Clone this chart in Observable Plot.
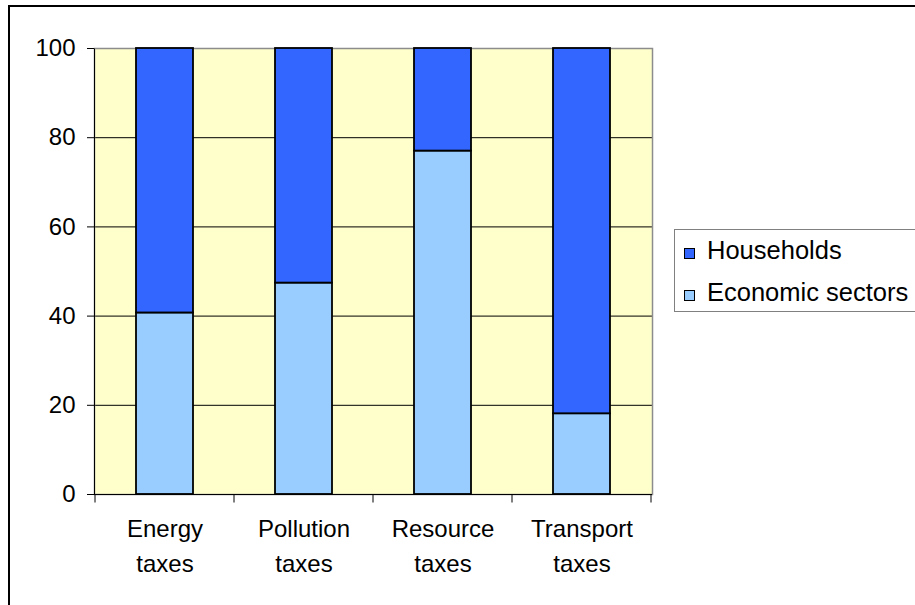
<!DOCTYPE html>
<html>
<head>
<meta charset="utf-8">
<script src="https://cdn.jsdelivr.net/npm/d3@7"></script>
<script src="https://cdn.jsdelivr.net/npm/@observablehq/plot@0.6"></script>
<style>
  body { margin: 0; background: #fff; font-family: "Liberation Sans", Arial, sans-serif; }
  #wrap { position: relative; width: 915px; height: 605px; overflow: hidden; background: #fff; }
  #frame { position: absolute; left: 8px; top: 5px; width: 1000px; height: 1000px; border: 2px solid #000; box-sizing: border-box; }
  #chart { position: absolute; left: 0; top: 0; }
  #legend { position: absolute; left: 674px; top: 229px; width: 300px; height: 83px; border: 1px solid #808080; box-sizing: border-box; background: #fff; font-size: 25.5px; color: #000; }
  .item { position: absolute; left: 0; height: 28px; line-height: 28px; white-space: nowrap; }
  .sw { position: absolute; left: 9px; width: 11px; height: 11px; border: 1px solid #000; box-sizing: border-box; }
  .lab { position: absolute; left: 32px; top: 0; }
</style>
</head>
<body>
<div id="wrap">
  <div id="frame"></div>
  <div id="chart"></div>
  <div id="legend"></div>
</div>
<script>
const categories = ["Energy taxes", "Pollution taxes", "Resource taxes", "Transport taxes"];
const economicSectors = [40.7, 47.4, 77.0, 18.1];
const households = [59.3, 52.6, 23.0, 81.9];
const seriesNames = ["Households", "Economic sectors"];
const seriesColors = ["#3366FF", "#99CCFF"];
const yTicks = [0, 20, 40, 60, 80, 100];
const gridTicks = [20, 40, 60, 80];

const rows = [];
categories.forEach((c, i) => {
  rows.push({cat: c, series: "Economic sectors", value: economicSectors[i]});
  rows.push({cat: c, series: "Households", value: households[i]});
});

function boundaryTicks(index, scales, values, dims, context, next) {
  const g = next(index, scales, values, dims, context);
  const xs = scales.x;
  const bw = typeof xs.bandwidth === "function" ? xs.bandwidth() : xs.bandwidth;
  const st = typeof xs.step === "function" ? xs.step() : xs.step;
  const y0 = scales.y(0);
  const y100 = scales.y(100);
  const xsPos = categories.map(c => xs(c) - (st - bw) / 2);
  xsPos.push(xsPos[xsPos.length - 1] + st);
  const sel = d3.select(g);
  xsPos.forEach(x => {
    sel.append("line").attr("x1", x).attr("x2", x).attr("y1", y0).attr("y2", y0 + 8)
      .attr("stroke", "#000").attr("stroke-width", 1);
  });
  // left axis line
  sel.append("line").attr("x1", xsPos[0] - 0.5).attr("x2", xsPos[0] - 0.5).attr("y1", y100).attr("y2", y0)
    .attr("stroke", "#000").attr("stroke-width", 1);
  return g;
}

const chart = Plot.plot({
  width: 915,
  height: 605,
  marginLeft: 94,
  marginRight: 263,
  marginTop: 48,
  marginBottom: 111,
  style: {fontFamily: "'Liberation Sans', Arial, sans-serif", fontSize: "24px", background: "transparent", color: "#000"},
  x: {domain: categories, paddingInner: 0.59, paddingOuter: 0.295, label: null},
  y: {domain: [0, 100], label: null},
  color: {domain: seriesNames, range: seriesColors},
  marks: [
    Plot.frame({fill: "#FFFFCC", stroke: "none"}),
    Plot.gridY(gridTicks, {stroke: "#000", strokeOpacity: 1, strokeWidth: 1}),
    Plot.frame({stroke: "#8c8c8c", strokeWidth: 1.5}),
    Plot.barY(rows, {x: "cat", y: "value", fill: "series", stroke: "#000", strokeWidth: 1.8}),
    Plot.ruleY([0], {stroke: "#000", strokeWidth: 1, render: boundaryTicks}),
    Plot.axisY(yTicks, {tickSize: 7, tickPadding: 12, stroke: "#000", strokeOpacity: 1, fill: "#000", label: null}),
    Plot.axisX({tickSize: 0, tickPadding: 18, lineHeight: 1.44, tickFormat: d => d.replace(" ", "\n"), fill: "#000", label: null})
  ]
});
document.getElementById("chart").appendChild(chart);

const legend = document.getElementById("legend");
const rowTops = [6, 48];
seriesNames.forEach((name, i) => {
  const item = document.createElement("div");
  item.className = "item";
  item.style.top = rowTops[i] + "px";
  const sw = document.createElement("div");
  sw.className = "sw";
  sw.style.top = "12px";
  sw.style.background = seriesColors[i];
  const lab = document.createElement("span");
  lab.className = "lab";
  lab.textContent = name;
  item.appendChild(sw);
  item.appendChild(lab);
  legend.appendChild(item);
});
</script>
</body>
</html>
